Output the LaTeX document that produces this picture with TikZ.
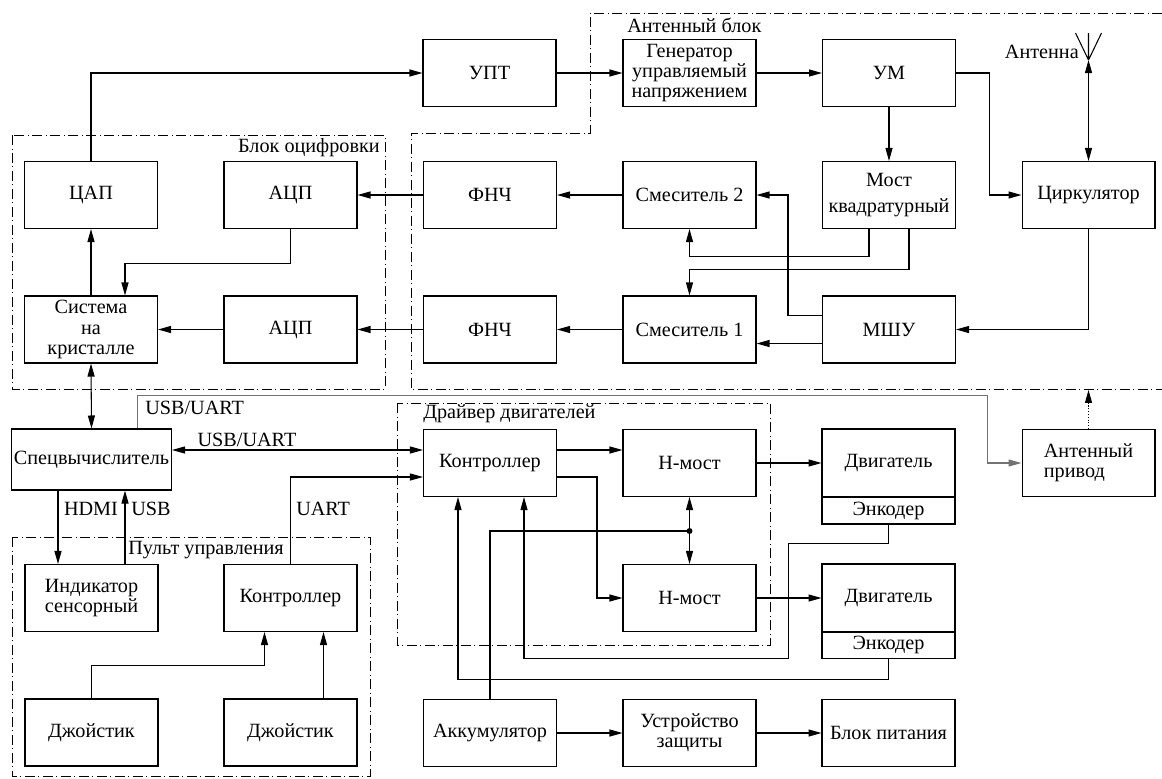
\documentclass[tikz,border=0pt]{standalone}
\usepackage{fontspec}
\setmainfont{Liberation Serif}
\newfontfamily\blkfont{Liberation Serif}
\usetikzlibrary{arrows.meta,calc}
\begin{document}
\begin{tikzpicture}[x=0.02cm,y=-0.02cm,line width=0.6pt,
  font=\blkfont\fontsize{11.5}{11.5}\selectfont,
  blk/.style={draw, minimum width=2.66cm, minimum height=1.34cm, align=center, inner sep=1pt},
  motbox/.style={blk, minimum height=1.36cm},
  encbox/.style={blk, minimum height=0.54cm},
  arr/.style={-{Triangle[length=2.6mm,width=1.4mm]}},
  darr/.style={{Triangle[length=2.6mm,width=1.4mm]}-{Triangle[length=2.6mm,width=1.4mm]}},
  group/.style={line width=0.5pt, dash pattern=on 2mm off 0.7mm on 0.2mm off 0.7mm},
  lbl/.style={inner sep=1pt}]
\useasboundingbox (0,0) rectangle (1162,778);
\draw[group] (1162,13) -- (590,13) -- (590,133) -- (411,133) -- (411,389) -- (1162,389);
\node[lbl, anchor=west] (tantblk) at (625,25) {Антенный блок};
\draw[group] (12,135) rectangle (385,389);
\node[lbl, anchor=east] (tdigblk) at (382,148) {Блок оцифровки};
\draw[group] (397,403) rectangle (770,645);
\node[lbl, anchor=west] (tdrvblk) at (421,414) {Драйвер двигателей};
\draw[group] (12,537) rectangle (370,776);
\node[lbl, anchor=west] (tpultblk) at (126,550) {Пульт управления};
\node[blk] (upt) at (489.5,73) {УПТ};
\node[blk] (vco) at (689.5,73) {Генератор\\управляемый\\напряжением};
\node[blk] (pa) at (889,73) {УМ};
\node[blk] (dac) at (91,195) {ЦАП};
\node[blk] (adc1) at (290.5,195) {АЦП};
\node[blk] (lpf1) at (490,195) {ФНЧ};
\node[blk] (mix2) at (689.5,195) {Смеситель 2};
\node[blk] (qbr) at (889,195) {Мост\\[3pt]квадратурный};
\node[blk] (circ) at (1088.5,195) {Циркулятор};
\node[blk] (soc) at (91,329.5) {Система\\на\\кристалле};
\node[blk] (adc2) at (290.5,329.5) {АЦП};
\node[blk] (lpf2) at (490,329.5) {ФНЧ};
\node[blk] (mix1) at (689.5,329.5) {Смеситель 1};
\node[blk] (lna) at (889,329.5) {МШУ};
\coordinate (ant) at (1088.5,60);
\draw[] (ant) -- ++(-13,-27) (ant) -- ++(13,-27) (ant) -- ++(0,-27);
\node[lbl, anchor=east] (tant) at (1081,52) {Антенна};
\node[blk, minimum width=3.2cm, minimum height=1.22cm] (comp) at (91.5,459.5) {Спецвычислитель};
\node[blk] (mctl) at (490,463) {Контроллер};
\node[blk] (hb1) at (689.5,463) {Н-мост};
\node[blk] (hb2) at (689.5,598) {Н-мост};
\node[motbox] (mot1) at (888.5,463) {Двигатель};
\node[encbox] (enc1) at (888.5,510.5) {Энкодер};
\node[motbox] (mot2) at (888.5,598) {Двигатель};
\node[encbox] (enc2) at (888.5,645) {Энкодер};
\node[blk, align=left] (drive) at (1088.5,463) {Антенный\\привод};
\node[blk] (ind) at (91.5,598) {Индикатор\\сенсорный};
\node[blk] (pctl) at (290.5,598) {Контроллер};
\node[blk] (joy1) at (91.5,732.5) {Джойстик};
\node[blk] (joy2) at (290.5,732.5) {Джойстик};
\node[blk] (bat) at (490,733) {Аккумулятор};
\node[blk] (prot) at (689.5,733) {Устройство\\защиты};
\node[blk] (psu) at (888.5,733) {Блок питания};
\coordinate (jn) at (689.5,531);
\draw[arr] (dac.north) |- (upt.west);
\draw[arr] (upt.east) -- (vco.west);
\draw[arr] (vco.east) -- (pa.west);
\draw[arr] (pa.east) -- ++(33,0) |- (circ.west);
\draw[arr] (pa.south) -- (qbr.north);
\draw[darr] (ant) -- (circ.north);
\draw[arr] ($(qbr.south)+(-20,0)$) -- ++(0,27) -| (mix2.south);
\draw[arr] ($(qbr.south)+(20,0)$) -- ++(0,40) -| (mix1.north);
\draw[arr] ($(lna.west)+(0,-14)$) -- ++(-34,0) |- (mix2.east);
\draw[arr] ($(lna.west)+(0,14)$) -- ($(mix1.east)+(0,14)$);
\draw[arr] (circ.south) |- (lna.east);
\draw[arr] (mix2.west) -- (lpf1.east);
\draw[arr] (mix1.west) -- (lpf2.east);
\draw[arr] (lpf1.west) -- (adc1.east);
\draw[arr] (lpf2.west) -- (adc2.east);
\draw[arr] (adc1.south) -- ++(0,34) -| ($(soc.north)+(34,0)$);
\draw[arr] (adc2.west) -- (soc.east);
\draw[arr] (soc.north) -- (dac.south);
\draw[darr] (soc.south) -- (comp.north);
\draw[arr, black!55] ($(comp.north)+(46,0)$) -- ++(0,-33) -| ($(drive.west)+(-34,0)$) -- (drive.west);
\node[lbl, anchor=west] (tusb1) at (143,408) {USB/UART};
\draw[darr] ($(mctl.west)+(0,-13)$) coordinate (u1) -- (u1 -| comp.east);
\node[lbl] (tusb2) at (247,440) {USB/UART};
\draw[arr] (pctl.north) |- ($(mctl.west)+(0,14)$);
\node[lbl, anchor=west] (tuart) at (294,509) {UART};
\draw[arr] ($(comp.south)+(-33.5,0)$) -- ($(ind.north)+(-33.5,0)$);
\node[lbl] (thdmi) at (91,509) {HDMI};
\draw[arr] ($(ind.north)+(33.5,0)$) -- ($(comp.south)+(33.5,0)$);
\node[lbl] (tusb3) at (151,509) {USB};
\draw[arr] (joy1.north) -- ++(0,-33) -| ($(pctl.south)+(-26,0)$);
\draw[arr] ($(joy2.north)+(33,0)$) -- ($(pctl.south)+(33,0)$);
\draw[arr] ($(mctl.east)+(0,-13)$) -- ($(hb1.west)+(0,-13)$);
\draw[arr] ($(mctl.east)+(0,14)$) -- ++(40,0) |- (hb2.west);
\draw[darr] (hb1.south) -- (hb2.north);
\fill (jn) circle[radius=1.7pt];
\draw[] (bat.north) |- (jn);
\draw[arr] (hb1.east) -- (mot1.west);
\draw[arr] (hb2.east) -- (mot2.west);
\draw[arr] (enc1.south) -- ++(0,19) -- ++(-100,0) -- ++(0,115) -| ($(mctl.south)+(34,0)$);
\draw[arr] (enc2.south) -- ++(0,20) -| ($(mctl.south)+(-32,0)$);
\draw[arr] (bat.east) -- (prot.west);
\draw[arr] (prot.east) -- (psu.west);
\draw[arr, densely dotted] (drive.north) -- ++(0,-39);
\end{tikzpicture}
\end{document}
